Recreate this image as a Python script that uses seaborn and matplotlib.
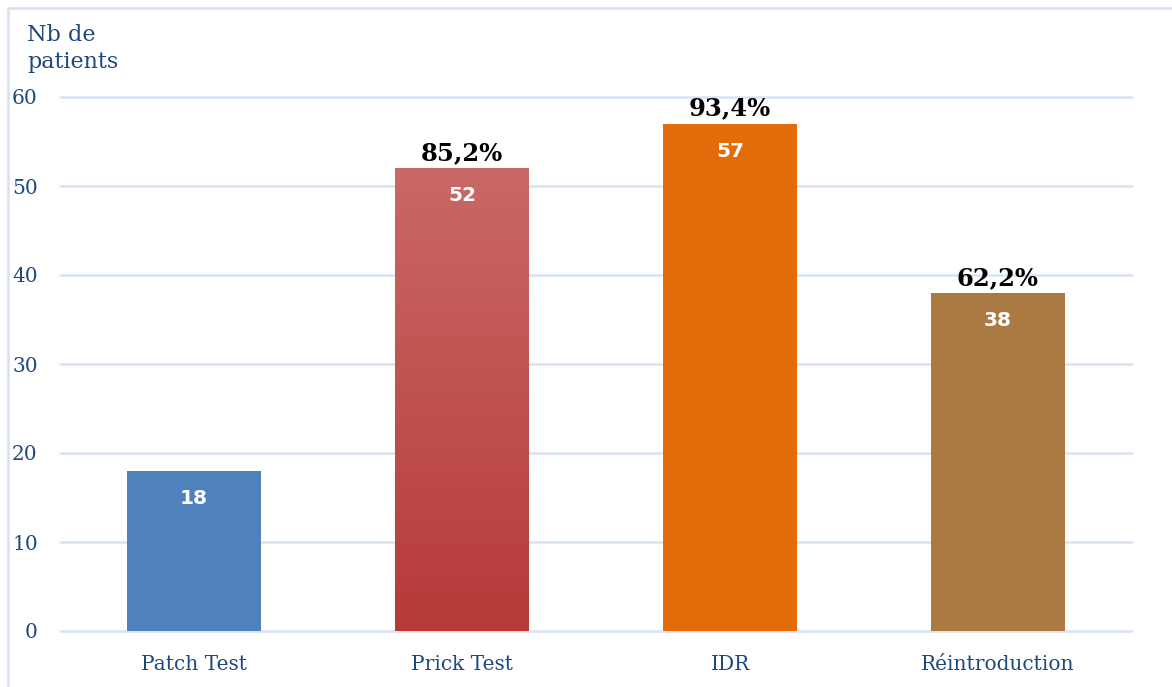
import numpy as np
import matplotlib
matplotlib.use("Agg")
import matplotlib.pyplot as plt
import seaborn as sns
from matplotlib.patches import Rectangle
from matplotlib.colors import LinearSegmentedColormap

categories = ["Patch Test", "Prick Test", "IDR", "Réintroduction"]
values = [18, 52, 57, 38]
percent_labels = ["", "85,2%", "93,4%", "62,2%"]
bar_colors = ["#4F81BD", "#C0504D", "#E36C0A", "#AB7942"]
yticks = [0, 10, 20, 30, 40, 50, 60]

sns.set_theme(style="white")
plt.rcParams['font.family'] = ['DejaVu Serif']

fig = plt.figure(figsize=(11.72, 6.87), dpi=100)
ax = fig.add_axes([60/1172, (687-631)/687, (1132-60)/1172, (631-97)/687])

sns.barplot(x=categories, y=values, hue=categories, palette=bar_colors,
            legend=False, width=0.5, ax=ax, saturation=1, zorder=3,
            linewidth=0, edgecolor="none")

ax.set_ylim(0, 60)
ax.set_xlim(-0.5, 3.5)
ax.set_yticks(yticks)
ax.set_yticklabels([str(t) for t in yticks])
for y in yticks:
    ax.axhline(y, color="#D9E4F2", lw=1.8, zorder=1, clip_on=False)
for s in ax.spines.values():
    s.set_visible(False)
ax.tick_params(axis="both", length=0, colors="#1F497D", labelsize=14.5)
ax.tick_params(axis="y", pad=16)
ax.tick_params(axis="x", pad=17)
ax.set_xlabel("")
ax.set_ylabel("")

# gradient for Prick Test bar
bars = ax.patches
grad_bar = bars[1]
x0 = grad_bar.get_x()
w = grad_bar.get_width()
h = grad_bar.get_height()
cmap = LinearSegmentedColormap.from_list("g", ["#B63A38", "#C96966"])
grad = np.linspace(0, 1, 256).reshape(-1, 1)
im = ax.imshow(grad, extent=[x0, x0 + w, 0, h], origin="lower", cmap=cmap,
               aspect="auto", zorder=4)
im.set_clip_path(grad_bar)
ax.set_xlim(-0.5, 3.5)
ax.set_ylim(0, 60)

for i, (v, p) in enumerate(zip(values, percent_labels)):
    ax.text(i, v - 3.1, str(v), ha="center", va="center", color="white",
            fontsize=14.5, fontweight="bold", family="DejaVu Sans", zorder=6)
    if p:
        ax.text(i, v + 0.35, p, ha="center", va="bottom", color="black",
                fontsize=17.5, fontweight="bold", zorder=6)

fig.text(27/1172, 1 - 24/687, "Nb de\npatients", ha="left", va="top",
         color="#1F497D", fontsize=16, linespacing=1.3)

fig.patches.append(Rectangle((8/1172, -0.05), 1.1, 1 - 8/687 + 0.05,
                             transform=fig.transFigure, fill=False,
                             edgecolor="#D6E2F1", lw=1.8))

fig.savefig("out.png", dpi=100)
